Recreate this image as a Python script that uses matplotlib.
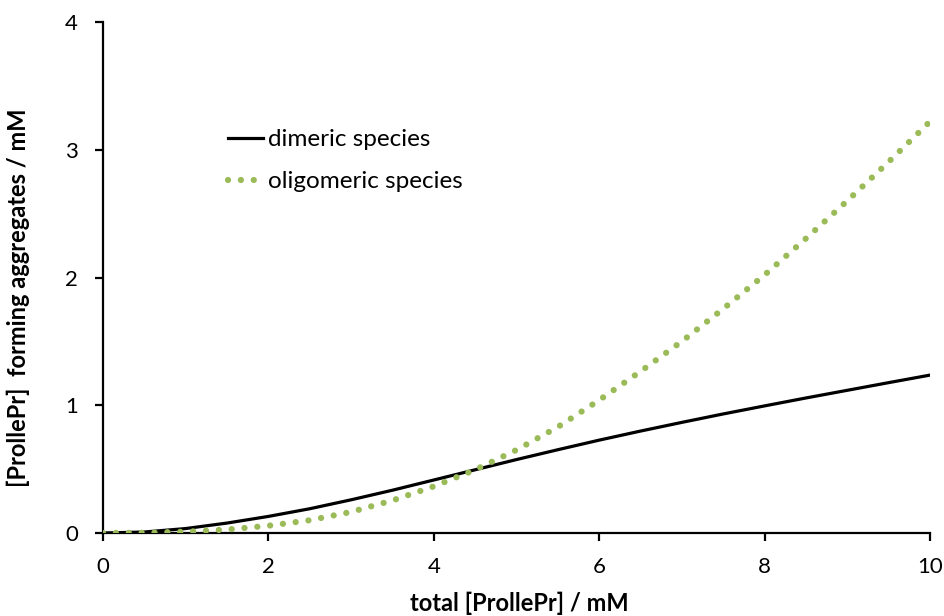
import matplotlib
matplotlib.use("Agg")
import matplotlib.pyplot as plt

# values
x = [0, 0.5, 1, 1.5, 2, 2.5, 3, 3.5, 4, 4.5, 5, 5.5, 6, 6.5, 7, 7.5, 8, 8.5, 9, 9.5, 10]
dimeric = [0, 0.008, 0.035, 0.078, 0.13, 0.19, 0.26, 0.335, 0.415, 0.495, 0.575, 0.652,
           0.727, 0.798, 0.866, 0.932, 0.995, 1.057, 1.117, 1.177, 1.236]
oligomeric = [0, 0.002, 0.01, 0.027, 0.057, 0.10, 0.165, 0.255, 0.365, 0.495, 0.65, 0.83,
              1.04, 1.265, 1.50, 1.755, 2.02, 2.305, 2.60, 2.905, 3.22]
xticks = [0, 2, 4, 6, 8, 10]
yticks = [0, 1, 2, 3, 4]

plt.rcParams['font.family'] = ['Lato', 'DejaVu Sans']

fig = plt.figure(figsize=(9.44, 6.16), dpi=100)
ax = fig.add_axes([0.1091, 0.1347, 0.876, 0.8296])

ax.plot(x, dimeric, color='black', lw=2.3, label='dimeric species', zorder=3)
ax.plot(x, oligomeric, color='#9bbb59', lw=4.5, linestyle=(0, (0.01, 2.05)),
        dash_capstyle='round', label='oligomeric species', zorder=4)

ax.set_xlim(0, 10)
ax.set_ylim(0, 4)
ax.set_xticks(xticks)
ax.set_yticks(yticks)
for s in ['top', 'right']:
    ax.spines[s].set_visible(False)
for s in ['left', 'bottom']:
    ax.spines[s].set_linewidth(1.6)
ax.tick_params(direction='out', length=6, width=1.6, labelsize=16)
ax.tick_params(axis='x', pad=11)
ax.tick_params(axis='y', pad=12)

ax.set_xlabel('total [ProllePr] / mM', fontweight='bold', fontsize=17)
ax.set_ylabel('[ProllePr]  forming aggregates / mM', fontweight='bold', fontsize=17)
ax.xaxis.set_label_coords(0.503, -0.115)
ax.yaxis.set_label_coords(-0.088, 0.461)

ax.legend(loc='upper left', bbox_to_anchor=(0.151, 0.79), frameon=False,
          borderpad=0, borderaxespad=0, handlelength=1.44, handletextpad=0.2,
          labelspacing=0.86, fontsize=17.5)

fig.savefig('out.png', dpi=100)
